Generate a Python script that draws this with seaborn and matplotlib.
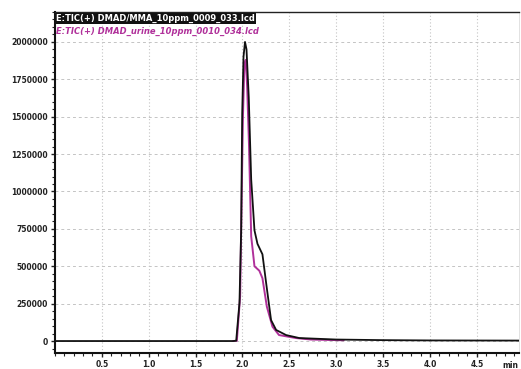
import matplotlib
matplotlib.use("Agg")
import matplotlib.pyplot as plt
from matplotlib.ticker import MultipleLocator
import seaborn as sns
import pandas as pd

# Series 1 (black): DMAD/MMA standard
std_time = [0.0, 1.0, 1.90, 1.933, 1.968, 1.986, 1.997, 2.011, 2.027, 2.043, 2.067,
            2.093, 2.128, 2.16, 2.213, 2.252, 2.305, 2.359, 2.465, 2.606, 3.0, 3.5, 4.0, 4.95]
std_int = [0, 0, 0, 2000, 255000, 740000, 1520000, 1900000, 2000000, 1950000, 1630000,
           1080000, 740000, 650000, 580000, 390000, 140000, 74000, 40000, 20000, 10000, 6000, 4000, 3000]

# Series 2 (magenta): urine sample
uri_time = [1.90, 1.94, 1.975, 1.99, 2.005, 2.02, 2.035, 2.05, 2.07, 2.093, 2.128,
            2.18, 2.213, 2.26, 2.32, 2.39, 2.57, 2.73, 3.08]
uri_int = [0, 2000, 300000, 900000, 1500000, 1850000, 1880000, 1700000, 1300000, 700000, 500000,
           470000, 420000, 230000, 96000, 40000, 20000, 10000, 5000]

labels = ["E:TIC(+) DMAD/MMA_10ppm_0009_033.lcd", "E:TIC(+) DMAD_urine_10ppm_0010_034.lcd"]
y_ticks = [0, 250000, 500000, 750000, 1000000, 1250000, 1500000, 1750000, 2000000]
x_ticks = [0.5, 1.0, 1.5, 2.0, 2.5, 3.0, 3.5, 4.0, 4.5]

sns.set_style("white")
plt.rcParams['font.family'] = ['DejaVu Sans']

fig = plt.figure(figsize=(5.21, 3.69), dpi=100)
ax = fig.add_axes([55/521, 1 - 353/369, (519 - 55)/521, (353 - 12)/369])

df1 = pd.DataFrame({"t": std_time, "i": std_int})
df2 = pd.DataFrame({"t": uri_time, "i": uri_int})
sns.lineplot(data=df2, x="t", y="i", ax=ax, color="#b0309a", lw=1.4, estimator=None, sort=False)
sns.lineplot(data=df1, x="t", y="i", ax=ax, color="#111111", lw=1.3, estimator=None, sort=False)

ax.set_xlim(0, 4.95)
ax.set_ylim(-80000, 2200000)
ax.set_xticks(x_ticks)
ax.set_xticklabels([f"{v:.1f}" for v in x_ticks])
ax.set_yticks(y_ticks)
ax.set_yticklabels([str(v) for v in y_ticks])
ax.xaxis.set_minor_locator(MultipleLocator(0.1))
ax.yaxis.set_minor_locator(MultipleLocator(50000))
ax.tick_params(which="major", direction="out", length=3, width=1, labelsize=5.5, pad=2,
               bottom=True, left=True, colors="#222222")
ax.tick_params(which="minor", direction="out", length=2, width=0.8, bottom=True, left=True, colors="#222222")
for lab in ax.get_xticklabels() + ax.get_yticklabels():
    lab.set_fontweight("bold")
ax.grid(True, which="major", axis="y", color="#c4c4c4", linestyle=(0, (3, 3)), lw=0.7)
ax.grid(True, which="major", axis="x", color="#c4c4c4", linestyle=(0, (1, 2)), lw=0.8)
ax.set_xlabel("")
ax.set_ylabel("")
for s in ["left", "bottom"]:
    ax.spines[s].set_color("#111111")
    ax.spines[s].set_linewidth(1.5)
ax.spines["top"].set_color("#222222")
ax.spines["top"].set_linewidth(1.0)
ax.spines["right"].set_color("#dddddd")
ax.spines["right"].set_linewidth(0.6)

ax.text(0.998, -0.022, "min", transform=ax.transAxes, ha="right", va="top",
        fontsize=5.5, fontweight="bold", color="#222222")

ax.text(0.003, 0.995, labels[0], transform=ax.transAxes, ha="left", va="top", fontsize=6,
        color="white", fontweight="bold",
        bbox=dict(boxstyle="square,pad=0.1", facecolor="#111111", edgecolor="none"))
ax.text(0.003, 0.955, labels[1], transform=ax.transAxes, ha="left", va="top", fontsize=6,
        color="#b0309a", fontweight="bold", fontstyle="italic")

fig.savefig("out.png", dpi=100)
